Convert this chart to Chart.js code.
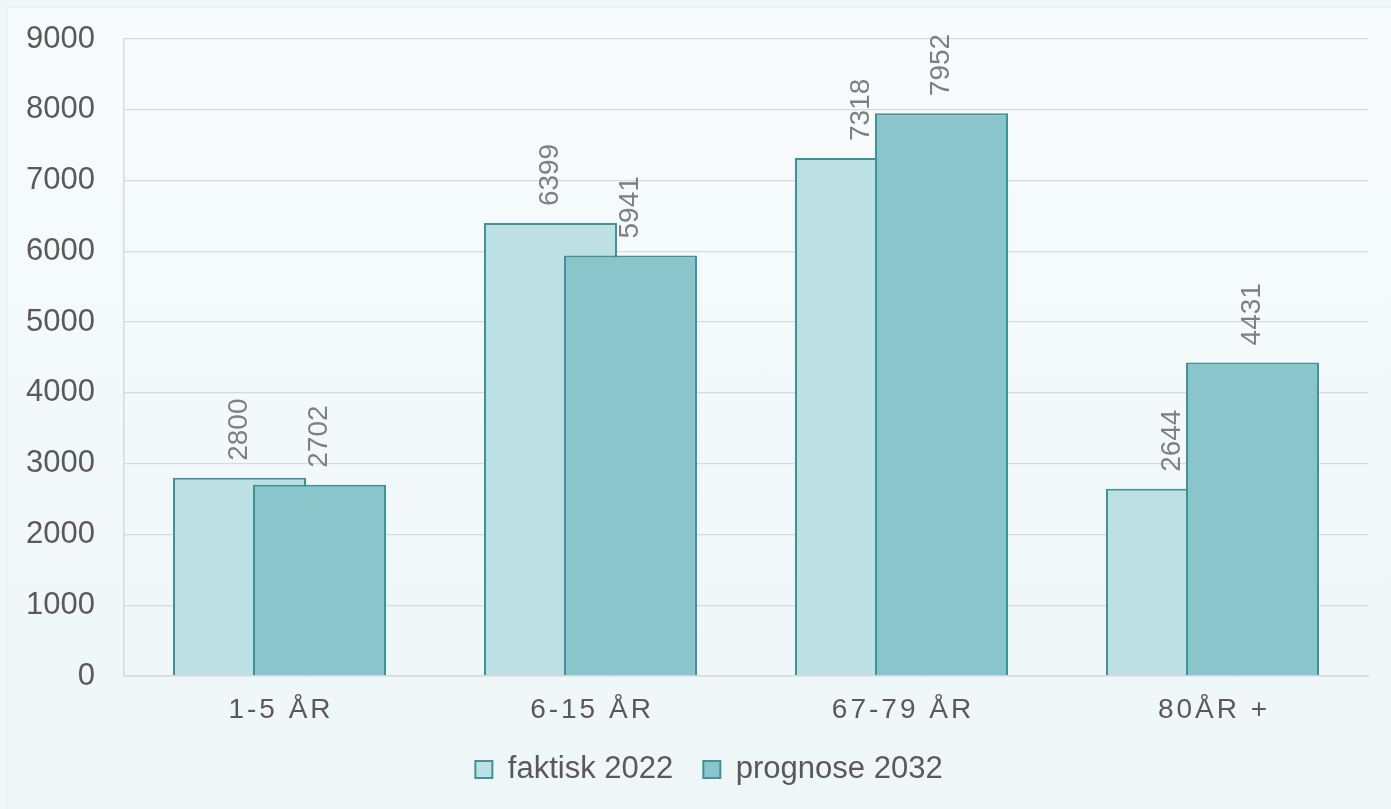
<!DOCTYPE html>
<html>
<head>
<meta charset="utf-8">
<script src="https://cdn.jsdelivr.net/npm/chart.js@4/dist/chart.umd.min.js"></script>
<style>
  html, body { margin: 0; padding: 0; }
  body { width: 1391px; height: 809px; background: #f1f6f7; position: relative; overflow: hidden; }
  #panel { position: absolute; left: 7px; top: 7px; right: 0; bottom: 0;
    background: linear-gradient(to bottom, #f8fbfc 0%, #f3f9fa 50%, #eef6f7 100%);
    border-left: 1px solid #e9f0f1; border-top: 1px solid #e9f0f1; }
  #wrap { position: absolute; left: 0; top: 0; width: 1391px; height: 809px; }
</style>
</head>
<body>
<div id="panel"></div>
<div id="wrap"><canvas id="c" width="1391" height="809"></canvas></div>
<script>
const categories = ['1-5 ÅR', '6-15 ÅR', '67-79 ÅR', '80ÅR +'];
const faktisk2022 = [2800, 6399, 7318, 2644];
const prognose2032 = [2702, 5941, 7952, 4431];
const seriesNames = ['faktisk 2022', 'prognose 2032'];
const yTicks = [0, 1000, 2000, 3000, 4000, 5000, 6000, 7000, 8000, 9000];

const FONT = '"Liberation Sans", Arial, sans-serif';

function drawValueLabels(chart) {
  const ctx = chart.ctx;
  ctx.save();
  ctx.font = '28px ' + FONT;
  ctx.fillStyle = '#7f7f7f';
  ctx.textAlign = 'left';
  ctx.textBaseline = 'middle';
  chart.data.datasets.forEach((ds, di) => {
    const meta = chart.getDatasetMeta(di);
    meta.data.forEach((bar, i) => {
      ctx.save();
      ctx.translate(bar.x, bar.y - 17);
      ctx.rotate(-Math.PI / 2);
      ctx.fillText(String(ds.data[i]), 0, 0);
      ctx.restore();
    });
  });
  ctx.restore();
}

// draw datasets in index order so the second series overlaps the first
const drawInOrder = {
  id: 'drawInOrder',
  beforeDatasetsDraw(chart) {
    chart.data.datasets.forEach((ds, i) => {
      const meta = chart.getDatasetMeta(i);
      if (!meta.hidden) meta.controller.draw();
    });
    drawValueLabels(chart);
    return false;
  }
};

const catLabels = {
  id: 'catLabels',
  afterDraw(chart) {
    const ctx = chart.ctx;
    const xs = chart.scales.x;
    ctx.save();
    ctx.font = '28px ' + FONT;
    ctx.fillStyle = '#595959';
    ctx.textAlign = 'center';
    ctx.textBaseline = 'middle';
    try { ctx.letterSpacing = '3px'; } catch (e) {}
    categories.forEach((lab, i) => {
      ctx.fillText(lab, xs.getPixelForTick(i) + 1.5, xs.top + 34);
    });
    ctx.restore();
  }
};

// nudge the legend block slightly right, as in the original
const legendShift = {
  id: 'legendShift',
  afterLayout(chart) {
    if (chart.legend) { chart.legend.left += 25; chart.legend.right += 25; }
  }
};

new Chart(document.getElementById('c'), {
  type: 'bar',
  data: {
    labels: categories,
    datasets: [
      { label: seriesNames[0], data: faktisk2022, backgroundColor: '#bce0e3', borderColor: '#3f9297', borderWidth: 2,
        categoryPercentage: 0.5145, barPercentage: 1.6625 },
      { label: seriesNames[1], data: prognose2032, backgroundColor: '#8bc5cc', borderColor: '#3f9297', borderWidth: 2,
        categoryPercentage: 0.5145, barPercentage: 1.6625 }
    ]
  },
  options: {
    responsive: false,
    animation: false,
    devicePixelRatio: 1,
    layout: { padding: { left: 0, right: 23, top: 39, bottom: 14 } },
    plugins: {
      legend: {
        position: 'bottom',
        labels: {
          font: { size: 31, family: FONT },
          color: '#595959',
          boxWidth: 17,
          boxHeight: 17,
          padding: 30,
          generateLabels(chart) {
            return chart.data.datasets.map((ds, i) => ({
              text: ds.label, fillStyle: ds.backgroundColor, strokeStyle: ds.borderColor,
              lineWidth: 2, datasetIndex: i, fontColor: '#595959'
            }));
          }
        }
      },
      tooltip: { enabled: false }
    },
    scales: {
      x: {
        grid: { display: false, drawTicks: false },
        border: { display: true, color: '#d9d9d9', width: 1.5 },
        ticks: { display: true, color: 'rgba(0,0,0,0)', font: { size: 28, family: FONT } },
        afterFit(scale) { scale.height = 48; scale.paddingLeft = 0; scale.paddingRight = 0; }
      },
      y: {
        min: 0, max: 9000,
        afterBuildTicks(scale) { scale.ticks = yTicks.map(v => ({ value: v })); },
        grid: { color: '#d9d9d9', lineWidth: 1.3, drawTicks: false },
        border: { display: true, color: '#d9d9d9', width: 1.5 },
        ticks: { color: '#595959', font: { size: 31, family: FONT }, padding: 29,
          callback: (v) => String(v) },
        afterFit(scale) { scale.width = 124; scale.paddingTop = 0; scale.paddingBottom = 0; }
      }
    }
  },
  plugins: [drawInOrder, catLabels, legendShift]
});
</script>
</body>
</html>
